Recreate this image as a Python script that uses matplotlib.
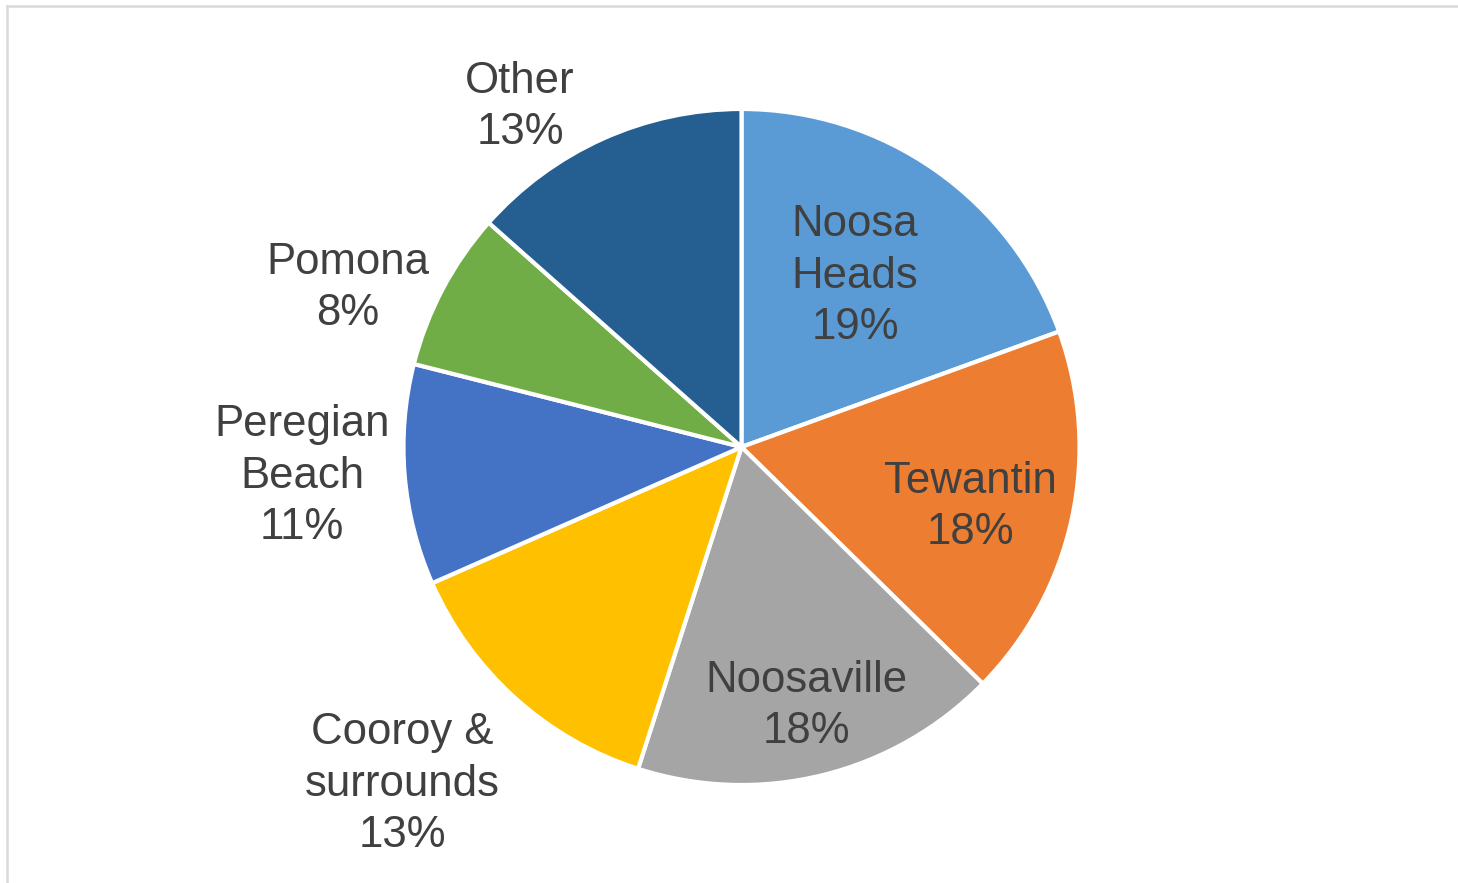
import matplotlib
matplotlib.use('Agg')
import matplotlib.pyplot as plt
from matplotlib.lines import Line2D

# data
places = ['Noosa\nHeads', 'Tewantin', 'Noosaville', 'Cooroy &\nsurrounds',
          'Peregian\nBeach', 'Pomona', 'Other']
shares = [19.45, 17.9, 17.6, 13.45, 10.55, 7.6, 13.45]
colors = ['#5B9BD5', '#ED7D31', '#A5A5A5', '#FFC000', '#4472C4', '#70AD47', '#255E91']

# label centres in pixel coords (x, y from top)
label_pos = [(855, 276), (970, 507), (806, 706), (402, 784),
             (302, 476), (348, 288), (520, 107)]

W, H = 1458, 883
fig = plt.figure(figsize=(W / 100, H / 100), dpi=100)
ax = fig.add_axes([0, 0, 1, 1])
ax.set_aspect('equal')

cx, cy, r = 741.5, H - 447, 338
ax.pie(shares, colors=colors, startangle=90, counterclock=False,
       center=(cx, cy), radius=r, frame=True,
       wedgeprops=dict(edgecolor='white', linewidth=3))
ax.set_xlim(0, W)
ax.set_ylim(0, H)
ax.axis('off')

for name, val, (x, y) in zip(places, shares, label_pos):
    ax.text(x, H - y, f'{name}\n{val:.0f}%', ha='center', va='center',
            fontsize=31.5, family='Liberation Sans', color='#404040',
            linespacing=1.33, multialignment='center')

# chart area border (only top and left visible)
fig.add_artist(Line2D([7 / W, 1], [1 - 6 / H, 1 - 6 / H], transform=fig.transFigure,
                      color='#D9D9D9', lw=1.8))
fig.add_artist(Line2D([7 / W, 7 / W], [0, 1 - 6 / H], transform=fig.transFigure,
                      color='#D9D9D9', lw=1.8))

fig.savefig('out.png', dpi=100)
